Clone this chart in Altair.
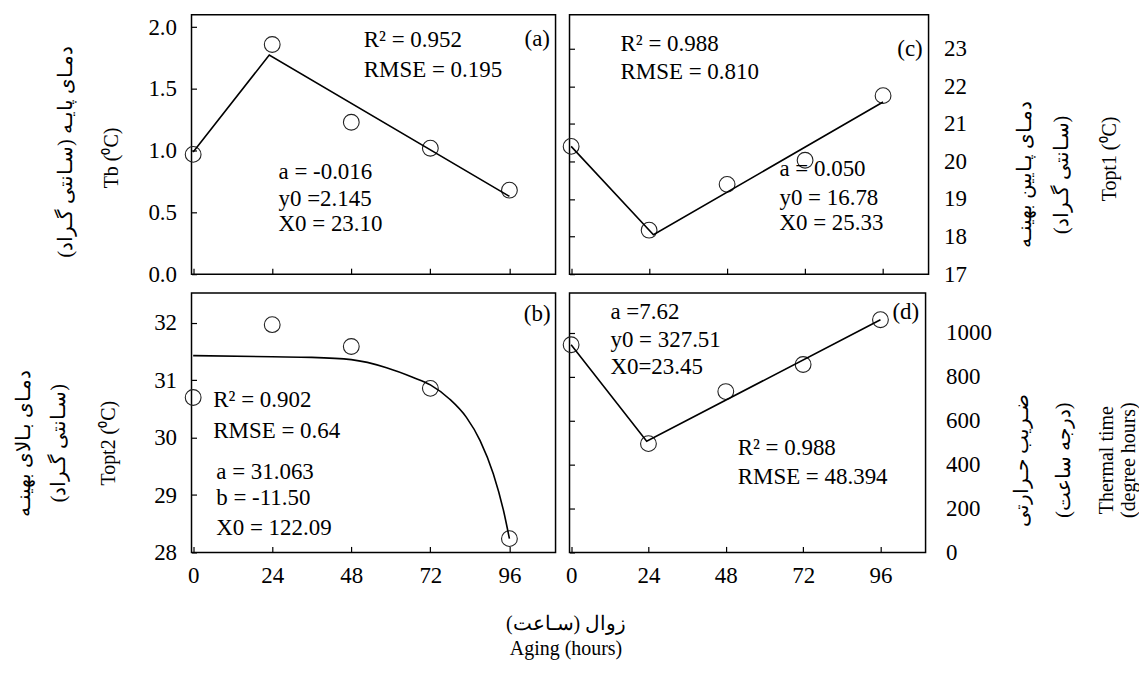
import altair as alt
import pandas as pd

FONT = "Liberation Serif"
RLM = "\u200f"

# ---------------- data ----------------
hours = [0, 24, 48, 72, 96]
hour_ticks = [0, 24, 48, 72, 96]

# (a) base temperature
tb_obs = [0.97, 1.86, 1.23, 1.02, 0.68]
tb_fit_x = [0, 23.10, 96]
tb_fit_y = [0.99, 1.775, 0.63]

# (c) lower optimum temperature
topt1_obs = [20.40, 18.17, 19.39, 20.03, 21.75]
topt1_fit_x = [0, 25.33, 96]
topt1_fit_y = [20.40, 18.05, 21.58]

# (b) upper optimum temperature
topt2_obs = [30.70, 31.97, 31.59, 30.86, 28.24]
topt2_fit_x = [0, 24, 36, 48, 58.7, 66.8, 72, 77.9, 83.0, 87.1, 91.1, 94.2, 96]
topt2_fit_y = [31.43, 31.41, 31.40, 31.36, 31.22, 31.05, 30.92, 30.67, 30.35,
               29.95, 29.37, 28.73, 28.24]

# (d) thermal time
tt_obs = [945, 495, 732, 855, 1059]
tt_fit_x = [0, 23.45, 96]
tt_fit_y = [945, 506, 1059]

# annotations
ann_a_text = ["R² = 0.952", "RMSE = 0.195", "a = -0.016", "y0 =2.145", "X0 = 23.10"]
ann_a_x = [51.8, 51.8, 25.9, 25.9, 25.9]
ann_a_y = [1.90, 1.65, 0.83, 0.605, 0.41]

ann_c_text = ["R² = 0.988", "RMSE = 0.810", "a = 0.050", "y0 = 16.78", "X0 = 25.33"]
ann_c_x = [15.2, 15.2, 64.1, 64.1, 64.1]
ann_c_y = [23.13, 22.39, 19.79, 19.02, 18.35]

ann_b_text = ["R² = 0.902", "RMSE = 0.64", "a = 31.063", "b = -11.50", "X0 = 122.09"]
ann_b_x = [6.1, 6.1, 7.0, 7.0, 7.0]
ann_b_y = [30.66, 30.12, 29.41, 28.94, 28.42]

ann_d_text = ["a =7.62", "y0 = 327.51", "X0=23.45", "R² = 0.988", "RMSE = 48.394"]
ann_d_x = [12.2, 12.2, 12.2, 51.7, 51.7]
ann_d_y = [1095, 968, 845, 473, 341]

letters = ["(a)", "(b)", "(c)", "(d)"]
letter_x = [108.3, 108.5, 108.2, 108.0]
letter_y = [1.903, 32.16, 23.0, 1095]

# axis titles
fa_a = [RLM + "دمـای پایـه (سـانتی گـراد)" + RLM]
fa_b = [RLM + "دمـای بـالای بهینـه" + RLM, RLM + "(سـانتی گـراد)" + RLM]
fa_c = [RLM + "دمـای پـایین بهینـه" + RLM, RLM + "(سـانتی گـراد)" + RLM]
fa_d = [RLM + "ضـریب حـرارتی" + RLM, RLM + "(درجه ساعت)" + RLM]
en_a = ["Tb (⁰C)"]
en_b = ["Topt2 (⁰C)"]
en_c = ["Topt1 (⁰C)"]
en_d = ["Thermal time", "(degree hours)"]
x_title = [RLM + "زوال (سـاعت)" + RLM, "Aging (hours)"]

XDOM = [-0.5, 110]


def make_panel(obs_y, fit_x, fit_y, ann_text, ann_x, ann_y, let_i,
               ydom, yvals, yfmt, side, xlabels,
               fa_title, fa_lh, fa_tx, fa_ty,
               en_title, en_lh, en_tx, en_ty,
               lab_pad, width, height, interp="linear"):
    xscale = alt.Scale(domain=XDOM, nice=False, zero=False)
    yscale = alt.Scale(domain=ydom, nice=False, zero=False)

    obs_df = pd.DataFrame({"x": hours, "y": obs_y})
    fit_df = pd.DataFrame({"x": fit_x, "y": fit_y})
    ann_df = pd.DataFrame({"x": ann_x, "y": ann_y, "t": ann_text})
    let_df = pd.DataFrame({"x": [letter_x[let_i]], "y": [letter_y[let_i]],
                           "t": [letters[let_i]]})

    tick_x_axis = alt.Axis(orient="bottom", offset=-6, tickSize=6, tickWidth=1.2,
                           tickColor="black", labels=False, domain=False,
                           grid=False, values=hour_ticks, minExtent=0)
    tick_y_axis = alt.Axis(orient="left", offset=-5, tickSize=5, tickWidth=1.2,
                           tickColor="black", labels=False, domain=False,
                           grid=False, values=yvals, minExtent=0)

    points = alt.Chart(obs_df).mark_point(
        shape="circle", filled=False, size=250, color="#222222",
        strokeWidth=1.1, opacity=1
    ).encode(
        x=alt.X("x:Q", scale=xscale, title=None, axis=tick_x_axis),
        y=alt.Y("y:Q", scale=yscale, title=None, axis=tick_y_axis),
    )

    if xlabels:
        lab_x_axis = alt.Axis(orient="bottom", ticks=False, domain=False, grid=False,
                              labelPadding=12, labelFont=FONT, labelFontSize=23,
                              labelColor="black", values=hour_ticks, format="d",
                              labelFlush=False, labelOverlap=False, minExtent=0)
        xenc = alt.X("x:Q", scale=xscale, title=None, axis=lab_x_axis)
    else:
        xenc = alt.X("x:Q", scale=xscale, axis=None)

    lab_y_axis = alt.Axis(orient=side, ticks=False, domain=False, grid=False,
                          labelPadding=lab_pad, labelFont=FONT, labelFontSize=23,
                          labelColor="black", values=yvals, format=yfmt,
                          labelOverlap=False, labelFlush=False,
                          title=fa_title, titleX=fa_tx, titleY=fa_ty,
                          titleAngle=270, titleAlign="center", titleBaseline="middle",
                          titleLineHeight=fa_lh, titleFont=FONT, titleFontSize=20,
                          titleFontWeight="normal", titleColor="black")

    line = alt.Chart(fit_df).mark_line(
        color="black", strokeWidth=1.6, interpolate=interp
    ).encode(
        x=xenc,
        y=alt.Y("y:Q", scale=yscale, axis=lab_y_axis),
    )

    en_axis = alt.Axis(orient=side, ticks=False, domain=False, grid=False,
                       labels=False, values=yvals,
                       title=en_title, titleX=en_tx, titleY=en_ty,
                       titleAngle=270, titleAlign="center", titleBaseline="middle",
                       titleLineHeight=en_lh, titleFont=FONT, titleFontSize=20,
                       titleFontWeight="normal", titleColor="black")

    text = alt.Chart(ann_df).mark_text(
        align="left", baseline="middle", font=FONT, fontSize=23, color="black"
    ).encode(
        x=alt.X("x:Q", scale=xscale, axis=None),
        y=alt.Y("y:Q", scale=yscale, axis=en_axis),
        text="t:N",
    )

    letter = alt.Chart(let_df).mark_text(
        align="right", baseline="middle", font=FONT, fontSize=23, color="black"
    ).encode(
        x=alt.X("x:Q", scale=xscale, axis=None),
        y=alt.Y("y:Q", scale=yscale, axis=None),
        text="t:N",
    )

    return alt.layer(points, line, text, letter).resolve_axis(
        x="independent", y="independent"
    ).properties(width=width, height=height)


pa = make_panel(tb_obs, tb_fit_x, tb_fit_y, ann_a_text, ann_a_x, ann_a_y, 0,
                [0, 2.1], [0, 0.5, 1.0, 1.5, 2.0], ".1f", "left", False,
                fa_a, 36, -126, 137, en_a, 24, -80, 143, 15, 365, 260)
pc = make_panel(topt1_obs, topt1_fit_x, topt1_fit_y, ann_c_text, ann_c_x, ann_c_y, 2,
                [17, 23.9], [17, 18, 19, 20, 21, 22, 23], "d", "right", False,
                fa_c, 37, 96, 160, en_c, 24, 181, 144, 15, 360, 260)
pb = make_panel(topt2_obs, topt2_fit_x, topt2_fit_y, ann_b_text, ann_b_x, ann_b_y, 1,
                [28, 32.52], [28, 29, 30, 31, 32], "d", "left", True,
                fa_b, 35, -168, 150, en_b, 24, -83, 150, 15, 365, 260, "monotone")
pd_ = make_panel(tt_obs, tt_fit_x, tt_fit_y, ann_d_text, ann_d_x, ann_d_y, 3,
                 [0, 1180], [0, 200, 400, 600, 800, 1000], "d", "right", True,
                 fa_d, 42, 96, 167, en_d, 22, 181, 167, 20, 357, 260)

chart = alt.concat(
    pa, pc, pb, pd_, columns=2, spacing={"row": 19, "column": 14}, bounds="flush",
    title=alt.TitleParams(text=x_title, orient="bottom", anchor="middle",
                          frame="bounds", font=FONT, fontSize=20,
                          fontWeight="normal", color="black", lineHeight=25,
                          offset=26, dx=-10),
).properties(
    padding={"left": 5, "top": 5, "right": 0, "bottom": 0}
).configure_view(
    stroke="black", strokeWidth=1.5
).configure_axis(
    grid=False
)

chart.save("out.html", embed_options={"renderer": "svg", "actions": False})
